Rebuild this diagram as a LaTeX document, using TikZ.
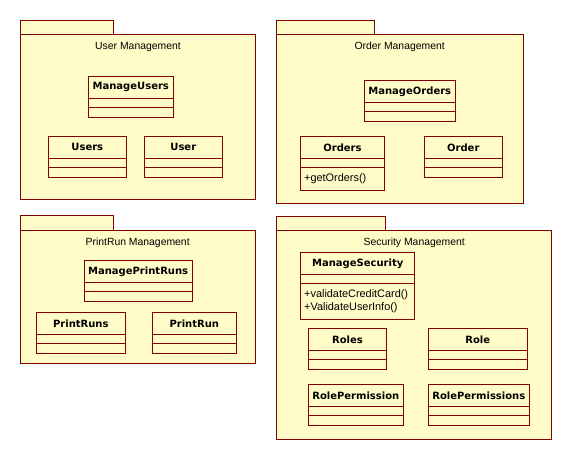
\documentclass[tikz,border=0pt]{standalone}
\usepackage{fontspec}
\setmainfont{Liberation Sans}
\newfontfamily\namefont{DejaVu Sans}
\usepackage{xcolor}
\definecolor{pkgfill}{RGB}{255,252,200}
\definecolor{umlline}{RGB}{128,0,0}

\tikzset{
  pkgline/.style={draw=umlline, fill=pkgfill, line width=0.9pt},
  clsline/.style={draw=umlline, line width=0.9pt},
  pkgtitle/.style={inner sep=0pt, font=\fontsize{10.4}{12}\selectfont},
  clsname/.style={inner sep=0pt, font=\namefont\bfseries\fontsize{10}{12}\selectfont},
  clsop/.style={inner sep=0pt, anchor=west, align=left, font=\fontsize{10.9}{13.3}\selectfont}
}

% package: id, left, tab top, tab right, body top, right, bottom, title
\newcommand{\umlpkg}[8]{%
  \draw[pkgline] (#2,#3) rectangle (#4,#5);
  \draw[pkgline] (#2,#5) rectangle (#6,#7);
  \node[pkgtitle] (#1) at ({(#2+#6)/2},#5+12.5) {#8};
}
% class: id, left, top, right, bottom, name
\newcommand{\umlclass}[6]{%
  \draw[clsline] (#2,#3) rectangle (#4,#5);
  \node[clsname] (#1) at ({(#2+#4)/2},#3+11) {#6};
  \draw[clsline] (#2,#3+22) -- (#4,#3+22);
  \draw[clsline] (#2,#3+31.2) -- (#4,#3+31.2);
}

\begin{document}
\begin{tikzpicture}[x=1pt, y=-1pt, line cap=round, line join=miter]
\useasboundingbox (0,0) rectangle (572,460);

% packages
\umlpkg{userpkg}{20.3}{20.3}{113.7}{34.3}{255.7}{199.3}{User Management}
\umlpkg{orderpkg}{276}{20.3}{374.3}{34.3}{523.3}{203.3}{Order Management}
\umlpkg{printpkg}{20.3}{215.3}{113.7}{230}{255}{363.3}{PrintRun Management}
\umlpkg{secpkg}{276.7}{216}{385.3}{230.7}{551.7}{439.3}{Security Management}

% user management
\umlclass{manageusers}{88.3}{76.3}{173.3}{117.3}{ManageUsers}
\umlclass{users}{48.3}{136.3}{126.3}{177.3}{Users}
\umlclass{user}{144.3}{136.3}{222.3}{177.3}{User}

% order management
\umlclass{manageorders}{364.3}{80.3}{455.3}{121.3}{ManageOrders}
\umlclass{orders}{300.7}{136.3}{384.3}{190.3}{Orders}
\umlclass{order}{424.3}{136.3}{502.3}{177.3}{Order}
\node[clsop] (ordersops) at (304,179) {+getOrders()};

% printrun management
\umlclass{manageprintruns}{84.3}{260.7}{192}{301.3}{ManagePrintRuns}
\umlclass{printruns}{36.3}{312.7}{125.3}{353.3}{PrintRuns}
\umlclass{printrun}{152.3}{312.7}{236.3}{353.3}{PrintRun}

% security management
\umlclass{managesecurity}{300.7}{252.3}{414.7}{319.3}{ManageSecurity}
\node[clsop] (securityops) at (304,301.3) {+validateCreditCard()\\+ValidateUserInfo()};
\umlclass{roles}{308.3}{328.3}{386.7}{369.3}{Roles}
\umlclass{role}{428.3}{328.3}{527.3}{369.3}{Role}
\umlclass{rolepermission}{308.3}{384.3}{403.3}{425}{RolePermission}
\umlclass{rolepermissions}{428.3}{384.3}{529.3}{425}{RolePermissions}
\end{tikzpicture}
\end{document}
